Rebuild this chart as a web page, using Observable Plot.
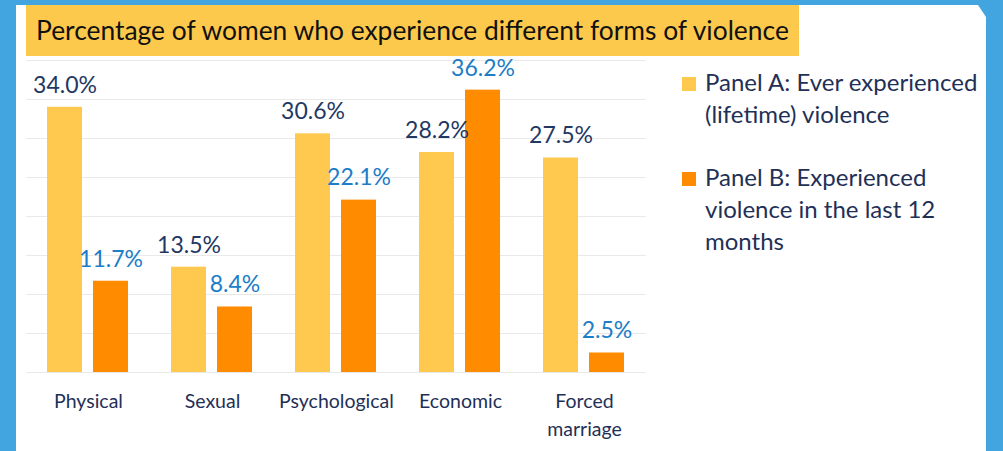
<!DOCTYPE html>
<html>
<head>
<meta charset="utf-8">
<script src="https://cdn.jsdelivr.net/npm/d3@7"></script>
<script src="https://cdn.jsdelivr.net/npm/@observablehq/plot@0.6"></script>
<style>
  html, body { margin: 0; padding: 0; background: #ffffff; }
  #frame { position: relative; width: 1003px; height: 451px; background: #42A5E0; overflow: hidden; font-family: Lato, "Open Sans", sans-serif; }
  #panel { position: absolute; left: 16px; top: 5px; width: 970px; height: 446px; background: #ffffff;
           clip-path: polygon(0 0, 962px 0, 970px 12px, 970px 100%, 0 100%); }
  #chart { position: absolute; left: 16px; top: 0; }
  #title { position: absolute; left: 26px; top: 5px; width: 773px; height: 51px; background: #FDC94C;
           color: #111111; font-size: 26.4px; line-height: 51px; padding-left: 10px; box-sizing: border-box; white-space: nowrap; }
  #legend { position: absolute; left: 682px; top: 66px; color: #1F3057; font-size: 24px; }
  .item { position: relative; padding-left: 23px; line-height: 32px; white-space: pre-line; margin-bottom: 31px; }
  .sw { position: absolute; left: 0; top: 11px; width: 14px; height: 14px; }
</style>
</head>
<body>
<div id="frame">
  <div id="panel"></div>
  <div id="chart"></div>
  <div id="title"></div>
  <div id="legend"></div>
</div>
<script>
const titleText = "Percentage of women who experience different forms of violence";
const categories = ["Physical", "Sexual", "Psychological", "Economic", "Forced marriage"];
const seriesNames = ["Panel A: Ever experienced\n(lifetime) violence", "Panel B: Experienced\nviolence in the last 12\nmonths"];
const lifetime = [34.0, 13.5, 30.6, 28.2, 27.5];
const last12 = [11.7, 8.4, 22.1, 36.2, 2.5];
const gridTicks = [0, 5, 10, 15, 20, 25, 30, 35, 40];
const barColors = ["#FEC94E", "#FF8B00"];
const labelColors = ["#1F3864", "#1C7DC8"];

const data = [];
categories.forEach((c, i) => {
  data.push({category: c, series: seriesNames[0], value: lifetime[i]});
  data.push({category: c, series: seriesNames[1], value: last12[i]});
});

document.getElementById("title").textContent = titleText;

const legend = document.getElementById("legend");
seriesNames.forEach((s, i) => {
  const item = document.createElement("div");
  item.className = "item";
  const sw = document.createElement("span");
  sw.className = "sw";
  sw.style.background = barColors[i];
  item.appendChild(sw);
  item.appendChild(document.createTextNode(s));
  legend.appendChild(item);
});

const chart = Plot.plot({
  width: 644,
  height: 451,
  marginLeft: 10,
  marginRight: 14,
  marginTop: 60,
  marginBottom: 79,
  style: {background: "transparent", fontFamily: "Lato, 'Open Sans', sans-serif", overflow: "visible"},
  fx: {domain: categories, padding: 0, axis: null},
  x: {domain: seriesNames, paddingInner: 0.239, paddingOuter: 0.467, axis: null},
  y: {domain: [0, 40], axis: null},
  color: {domain: seriesNames, range: barColors},
  marks: [
    Plot.gridY(gridTicks, {stroke: "#E9E9E9", strokeOpacity: 1, strokeWidth: 1}),
    Plot.barY(data, {fx: "category", x: "series", y: "value", fill: "series"}),
    Plot.text(data, {fx: "category", x: "series", y: "value", text: d => d.value.toFixed(1) + "%",
      dy: -22, fontSize: 23, fill: d => labelColors[seriesNames.indexOf(d.series)]}),
    Plot.axisFx({anchor: "bottom", tickSize: 0, tickPadding: 16, fontSize: 19.5, lineHeight: 1.42,
      color: "#1F3057", label: null,
      tickFormat: d => d === "Forced marriage" ? "Forced\nmarriage" : d})
  ]
});
document.getElementById("chart").appendChild(chart);
</script>
</body>
</html>
